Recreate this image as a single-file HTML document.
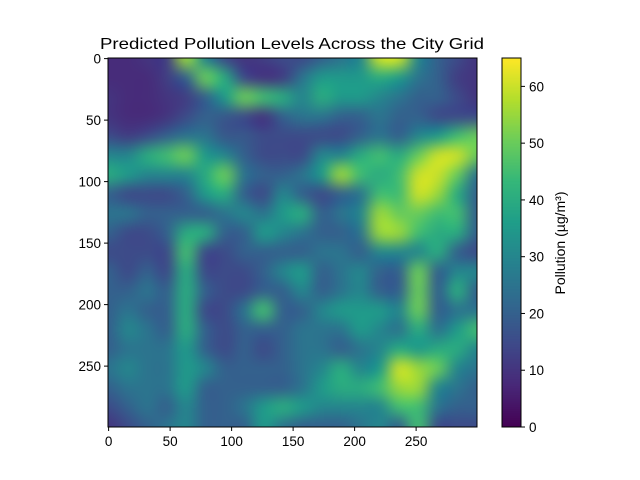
<!DOCTYPE html>
<html><head><meta charset="utf-8"><style>
body{margin:0;background:#fff;width:640px;height:480px;overflow:hidden;position:relative;font-family:"Liberation Sans",sans-serif;}
.t{position:absolute;font-size:14px;color:#000;white-space:nowrap;}
</style></head><body>
<canvas id="hm" width="369" height="369" style="position:absolute;left:108px;top:58px;"></canvas>
<canvas id="cb" width="19" height="369" style="position:absolute;left:502px;top:58px;"></canvas>
<svg id="ax" width="640" height="480" style="position:absolute;left:0;top:0">
<text x="100" y="49" font-size="16" font-family="Liberation Sans" textLength="384" lengthAdjust="spacingAndGlyphs">Predicted Pollution Levels Across the City Grid</text>
</svg>
<div class="t" style="left:560px;top:243px;transform:translate(-50%,-50%) rotate(-90deg);">Pollution (µg/m³)</div>
<script>
const xTicks=[0,50,100,150,200,250];
const yTicks=[0,50,100,150,200,250];
const cbTicks=[0,10,20,30,40,50,60];
const vmax=65;
const grid=[
[8,8,10,12,55,30,15,10,12,15,15,20,25,30,60,60,30,20,15,10],
[8,8,8,12,20,50,40,15,10,12,25,35,35,35,40,35,25,20,12,10],
[10,8,8,10,12,20,35,50,45,40,30,40,35,35,30,25,20,20,15,10],
[10,8,8,10,15,20,18,15,10,20,25,25,20,20,25,20,20,15,15,15],
[15,12,15,20,25,25,18,18,15,15,15,15,15,20,25,20,30,35,45,50],
[30,30,40,45,50,35,30,20,15,15,15,30,30,40,45,40,50,60,60,50],
[40,35,30,30,30,40,50,25,20,20,25,35,55,45,40,45,60,60,50,25],
[20,15,15,15,20,35,40,20,15,30,20,15,20,25,45,45,60,55,40,20],
[25,25,20,20,20,20,25,30,25,35,40,20,25,30,55,50,50,45,45,20],
[20,15,15,20,40,40,20,20,35,30,25,20,20,25,55,55,45,40,40,20],
[15,15,15,15,45,15,15,20,20,20,20,25,25,20,30,30,30,40,20,15],
[20,15,20,15,40,15,15,15,20,30,35,20,25,30,20,20,50,20,30,30],
[20,20,25,20,40,20,15,15,20,20,30,20,25,30,20,20,50,20,40,20],
[20,25,20,20,40,15,15,25,45,20,20,30,35,35,35,30,50,20,25,25],
[20,30,25,20,40,20,15,20,20,20,25,25,25,35,30,25,40,25,35,45],
[20,25,25,25,35,20,15,20,15,20,25,25,20,25,30,40,35,40,40,30],
[25,30,25,25,35,30,20,20,20,20,25,30,40,30,35,60,55,50,30,25],
[20,25,25,25,35,20,20,20,20,20,25,35,40,40,45,55,55,30,25,20],
[15,20,25,20,30,20,20,25,35,40,35,30,30,30,30,45,45,25,20,20],
[10,15,20,25,30,20,20,20,35,25,20,20,20,25,30,20,45,15,15,15]];
const stops=[[68,1,84],[72,40,120],[62,73,137],[49,104,142],[38,130,142],[31,158,137],[53,183,121],[109,205,89],[180,222,44],[253,231,37]];
function viridis(t){t=Math.max(0,Math.min(1,t))*(stops.length-1);const i=Math.min(Math.floor(t),stops.length-2),f=t-i;return stops[i].map((c,k)=>Math.round(c+(stops[i+1][k]-c)*f));}
const n=grid.length,m=grid[0].length;
const small=document.createElement('canvas');small.width=m;small.height=n;
const sc=small.getContext('2d');const id=sc.createImageData(m,n);
grid.forEach((row,r)=>row.forEach((v,c)=>{const col=viridis(v/vmax);const k=(r*m+c)*4;id.data[k]=col[0];id.data[k+1]=col[1];id.data[k+2]=col[2];id.data[k+3]=255;}));
sc.putImageData(id,0,0);
const hc=document.getElementById('hm').getContext('2d');
hc.imageSmoothingEnabled=true;hc.imageSmoothingQuality='high';
hc.drawImage(small,-369/m/2,-369/n/2,369+369/m,369+369/n);
const cc=document.getElementById('cb').getContext('2d');
for(let y=0;y<369;y++){const c=viridis(1-y/368);cc.fillStyle=`rgb(${c})`;cc.fillRect(0,y,19,1);}
const svg=document.getElementById('ax');const NS='http://www.w3.org/2000/svg';
function el(t,a){const e=document.createElementNS(NS,t);for(const k in a)e.setAttribute(k,a[k]);svg.appendChild(e);return e;}
const X=v=>108+(v+0.5)*369/300, Y=v=>58+(v+0.5)*369/300, CB=v=>427-v*369/vmax;
let r=el('rect',{x:108,y:58,width:369,height:369,fill:'none',stroke:'#000','stroke-width':1});


r=el('rect',{x:502,y:58,width:19,height:369,fill:'none',stroke:'#000','stroke-width':1});


xTicks.forEach(v=>{el('line',{x1:X(v),x2:X(v),y1:427,y2:431,stroke:'#000'});const t=el('text',{x:X(v),y:446,'font-size':13.5,'text-anchor':'middle','font-family':'Liberation Sans'});t.textContent=v;

});
yTicks.forEach(v=>{el('line',{x1:104,x2:108,y1:Y(v),y2:Y(v),stroke:'#000'});const t=el('text',{x:101,y:Y(v)+5,'font-size':13.5,'text-anchor':'end','font-family':'Liberation Sans'});t.textContent=v;

});
cbTicks.forEach(v=>{el('line',{x1:521,x2:525,y1:CB(v),y2:CB(v),stroke:'#000'});const t=el('text',{x:529,y:CB(v)+5,'font-size':13.5,'font-family':'Liberation Sans'});t.textContent=v;

});
</script>
</body></html>
